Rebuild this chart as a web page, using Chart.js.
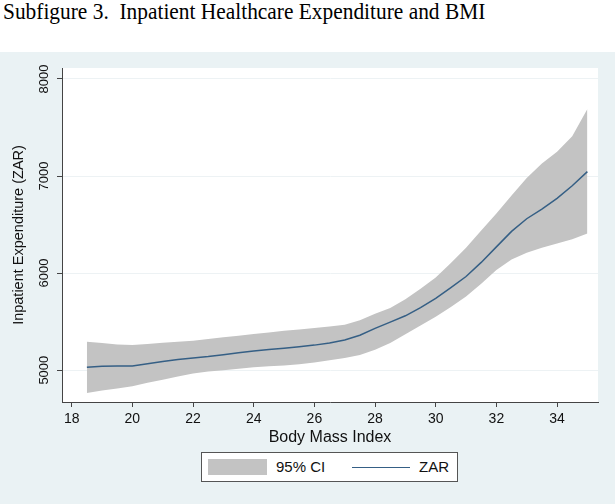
<!DOCTYPE html>
<html>
<head>
<meta charset="utf-8">
<script src="https://cdn.jsdelivr.net/npm/chart.js"></script>
<style>
    body { margin: 0; width: 615px; height: 504px; overflow: hidden; background: #fff; font-family: "Liberation Sans", Arial, sans-serif; }
    #title { position: absolute; left: 3px; top: 0; font-family: "Liberation Serif", "Times New Roman", serif; font-size: 23px; line-height: 23px; color: #000; white-space: pre; transform: scaleX(0.93); transform-origin: left top; }
    #panel { position: absolute; left: 0; top: 52px; width: 615px; height: 452px; background: #eaf2f4; }
    #legend { position: absolute; left: 201px; top: 400px; width: 257px; height: 30px; border: 1px solid #555; background: #fff; box-sizing: border-box; font-size: 15px; color: #111; }
    #legend .box { position: absolute; left: 6px; top: 6px; width: 59px; height: 16px; background: #c3c3c3; }
    #legend .line { position: absolute; left: 150px; top: 14px; width: 58px; height: 1px; background: #355f85; }
    #legend span { position: absolute; top: 5px; line-height: 18px; }
</style>
</head>
<body>
<div id="title">Subfigure 3.  Inpatient Healthcare Expenditure and BMI</div>
<div id="panel">
    <canvas id="chart-bmi" width="615" height="452"></canvas>
    <div id="legend">
        <div class="box"></div><span style="left:74px">95% CI</span>
        <div class="line"></div><span style="left:217px">ZAR</span>
    </div>
</div>

<script>
    const bmi = [18.5, 19, 19.5, 20, 20.5, 21, 21.5, 22, 22.5, 23, 23.5, 24, 24.5, 25, 25.5, 26, 26.5,
        27, 27.5, 28, 28.5, 29, 29.5, 30, 30.5, 31, 31.5, 32, 32.5, 33, 33.5, 34, 34.5, 35];
    const zar = [5030, 5040, 5042, 5042, 5065, 5090, 5110, 5125, 5140, 5160, 5180, 5198, 5212, 5225, 5240, 5258, 5280,
        5310, 5360, 5430, 5495, 5560, 5645, 5740, 5850, 5965, 6110, 6270, 6430, 6560, 6660, 6770, 6900, 7045];
    const ciLow = [4766, 4790, 4812, 4835, 4870, 4900, 4935, 4966, 4985, 5000, 5015, 5030, 5040, 5048, 5060, 5080, 5102,
        5125, 5155, 5210, 5280, 5370, 5460, 5550, 5650, 5760, 5890, 6031, 6140, 6210, 6260, 6305, 6350, 6409];
    const ciHigh = [5292, 5280, 5265, 5258, 5270, 5282, 5292, 5302, 5320, 5338, 5355, 5372, 5388, 5405, 5420, 5435, 5450,
        5468, 5515, 5580, 5640, 5730, 5840, 5955, 6105, 6260, 6440, 6615, 6800, 6980, 7130, 7250, 7410, 7690];
    const xTicks = [18, 20, 22, 24, 26, 28, 30, 32, 34];
    const yTicks = [5000, 6000, 7000, 8000];

    function toPoints(values) {
        return values.map((v, i) => ({ x: bmi[i], y: v }));
    }

    // white plot region like the Stata plotregion
    const plotBackground = {
        id: 'plotBackground',
        beforeDraw(chart) {
            const { ctx, chartArea } = chart;
            ctx.save();
            ctx.fillStyle = '#fff';
            ctx.fillRect(chartArea.left, chartArea.top, chartArea.right - chartArea.left, chartArea.bottom - chartArea.top);
            ctx.restore();
        }
    };

    // y tick labels are written vertically in the original
    const verticalYLabels = {
        id: 'verticalYLabels',
        afterDraw(chart) {
            const { ctx } = chart;
            const scale = chart.scales.y;
            ctx.save();
            ctx.fillStyle = '#111';
            ctx.font = '13px "Liberation Sans", Arial, sans-serif';
            ctx.textAlign = 'center';
            ctx.textBaseline = 'middle';
            yTicks.forEach(function (v) {
                const y = scale.getPixelForValue(v);
                ctx.save();
                ctx.translate(44, y);
                ctx.rotate(-Math.PI / 2);
                ctx.fillText(String(v), 0, 0);
                ctx.restore();
            });
            ctx.restore();
        }
    };

    const ctx = document.getElementById('chart-bmi').getContext('2d');

    new Chart(ctx, {
        type: 'line',
        data: {
            datasets: [
                {
                    label: 'lower',
                    data: toPoints(ciLow),
                    borderWidth: 0,
                    pointRadius: 0,
                    fill: false,
                    order: 1
                },
                {
                    label: '95% CI',
                    data: toPoints(ciHigh),
                    borderWidth: 0,
                    pointRadius: 0,
                    backgroundColor: '#c3c3c3',
                    fill: '-1',
                    order: 1
                },
                {
                    label: 'ZAR',
                    data: toPoints(zar),
                    borderColor: '#355f85',
                    borderWidth: 1.5,
                    pointRadius: 0,
                    fill: false,
                    order: 0   // drawn last, on top of the band
                }
            ]
        },
        options: {
            responsive: false,
            animation: false,
            layout: {
                padding: { left: 0, right: 17, top: 16, bottom: 50 }
            },
            plugins: {
                legend: { display: false },
                tooltip: { enabled: false }
            },
            scales: {
                x: {
                    type: 'linear',
                    min: 17.68,
                    max: 35.35,
                    afterBuildTicks: s => { s.ticks = xTicks.map(v => ({ value: v })); },
                    afterFit: s => { s.height = 52; },
                    ticks: {
                        color: '#111',
                        font: { size: 14, family: '"Liberation Sans", Arial, sans-serif' },
                        padding: 4,
                        maxRotation: 0
                    },
                    grid: {
                        drawOnChartArea: false,
                        tickLength: 5,
                        tickColor: '#444'
                    },
                    border: { color: '#444', width: 1 },
                    title: {
                        display: true,
                        text: 'Body Mass Index',
                        color: '#111',
                        font: { size: 16, family: '"Liberation Sans", Arial, sans-serif' },
                        padding: { top: 0, bottom: 7 }
                    }
                },
                y: {
                    min: 4672,
                    max: 8113,
                    afterBuildTicks: s => { s.ticks = yTicks.map(v => ({ value: v })); },
                    afterFit: s => { s.width = 62; },
                    ticks: { display: false },
                    grid: {
                        color: '#edf2f4',
                        tickLength: 5,
                        tickColor: '#444'
                    },
                    border: { color: '#444', width: 1 },
                    title: {
                        display: true,
                        text: 'Inpatient Expenditure (ZAR)',
                        color: '#111',
                        font: { size: 14.5, family: '"Liberation Sans", Arial, sans-serif' },
                        padding: { top: 10, bottom: 0 }
                    }
                }
            }
        },
        plugins: [plotBackground, verticalYLabels]
    });
</script>
</body>
</html>
